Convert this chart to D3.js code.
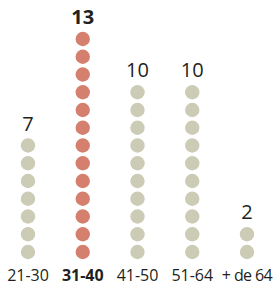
<!DOCTYPE html>
<html>
<head>
<meta charset="utf-8">
<script src="https://cdn.jsdelivr.net/npm/d3@7"></script>
<style>
  html, body { margin: 0; padding: 0; background: #fff; }
  text { font-family: "Open Sans", "Noto Sans", sans-serif; fill: #231f20; }
</style>
</head>
<body>
<div id="container"></div>
<script>
const width = 275, height = 286;

// data
const ages = ["21-30", "31-40", "41-50", "51-64", "+ de 64"];
const counts = [7, 13, 10, 10, 2];
const highlight = "31-40";

const svg = d3.select('#container')
    .append('svg')
    .attr('width', width)
    .attr('height', height)

const x = d3.scalePoint()
    .domain(ages)
    .range([28, 247])

// one dot per unit, stacked from the bottom
const y = d3.scaleLinear()
    .domain([0, 12])
    .range([252, 39])

const dots = [];
ages.forEach((a, i) => {
    for (let k = 0; k < counts[i]; k++) dots.push({ age: a, k: k });
});

svg.append('g')
    .selectAll('circle')
    .data(dots)
    .enter()
    .append('circle')
    .attr('cx', d => x(d.age))
    .attr('cy', d => y(d.k))
    .attr('r', 7.2)
    .attr('fill', d => d.age === highlight ? '#d5806f' : '#cccbb5')

// value above each column
svg.append('g')
    .selectAll('text')
    .data(ages)
    .enter()
    .append('text')
    .attr('x', d => x(d))
    .attr('y', (d, i) => y(counts[i] - 1) - 15)
    .attr('text-anchor', 'middle')
    .attr('font-size', 20)
    .attr('font-weight', d => d === highlight ? 700 : 400)
    .text((d, i) => counts[i])

// category labels
svg.append('g')
    .selectAll('text')
    .data(ages)
    .enter()
    .append('text')
    .attr('x', d => x(d))
    .attr('y', 281)
    .attr('text-anchor', 'middle')
    .attr('font-size', 16)
    .attr('letter-spacing', d => d === "+ de 64" ? -0.6 : 0)
    .attr('font-weight', d => d === highlight ? 700 : 400)
    .text(d => d)
</script>
</body>
</html>
